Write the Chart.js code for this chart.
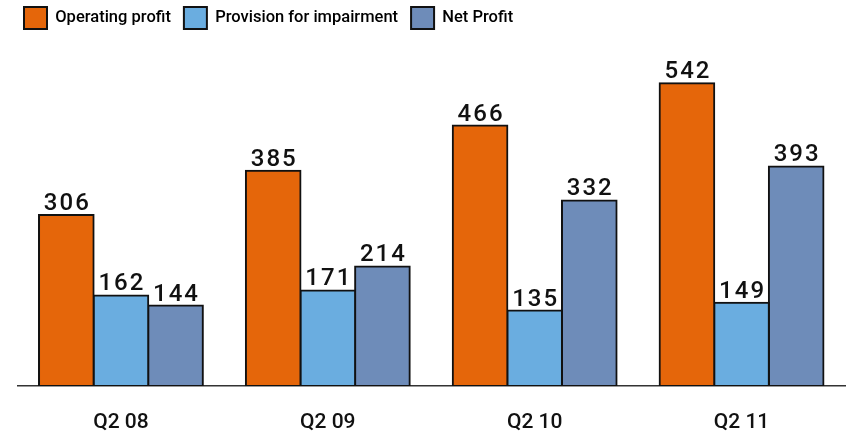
<!DOCTYPE html>
<html>
<head>
<meta charset="utf-8">
<script src="https://cdn.jsdelivr.net/npm/chart.js@4/dist/chart.umd.min.js"></script>
<style>
  html, body { margin: 0; padding: 0; background: #fff; }
  #wrap { width: 848px; height: 435px; position: relative; }
</style>
</head>
<body>
<div id="wrap"><canvas id="chart" width="848" height="435"></canvas></div>
<script>
// Quarterly results (in millions)
const categories = ['Q2 08', 'Q2 09', 'Q2 10', 'Q2 11'];
const operatingProfit = [306, 385, 466, 542];
const provisionForImpairment = [162, 171, 135, 149];
const netProfit = [144, 214, 332, 393];

const seriesNames = ['Operating profit', 'Provision for impairment', 'Net Profit'];
const seriesColors = ['#E5660A', '#6AADE0', '#6E8CB9'];

// Value labels drawn just above each bar
const valueLabels = {
  id: 'valueLabels',
  afterDatasetsDraw(chart) {
    const ctx = chart.ctx;
    ctx.save();
    ctx.font = '500 24px Roboto, sans-serif';
    ctx.fillStyle = '#111';
    ctx.textAlign = 'center';
    ctx.textBaseline = 'bottom';
    let shift = 0;
    if ('letterSpacing' in ctx) { ctx.letterSpacing = '2px'; shift = 1; }
    chart.data.datasets.forEach((ds, i) => {
      chart.getDatasetMeta(i).data.forEach((bar, j) => {
        ctx.fillText(String(ds.data[j]), bar.x + shift, bar.y + 1);
      });
    });
    ctx.restore();
  }
};

new Chart(document.getElementById('chart'), {
  type: 'bar',
  data: {
    labels: categories,
    datasets: [operatingProfit, provisionForImpairment, netProfit].map((vals, i) => ({
      label: seriesNames[i],
      data: vals,
      backgroundColor: seriesColors[i],
      borderColor: '#111',
      borderWidth: 2,
      borderSkipped: false,
      inflateAmount: 1,
      categoryPercentage: 0.792,
      barPercentage: 1.0
    }))
  },
  options: {
    responsive: false,
    animation: false,
    layout: { padding: { left: 11, right: 3, top: -6, bottom: 0 } },
    plugins: {
      legend: {
        position: 'top',
        align: 'start',
        labels: {
          boxWidth: 23,
          boxHeight: 22,
          padding: 13,
          color: '#111',
          font: { family: 'Roboto, sans-serif', size: 16.5, weight: '500' },
          generateLabels(chart) {
            return chart.data.datasets.map((ds, i) => ({
              text: ds.label,
              fillStyle: ds.backgroundColor,
              strokeStyle: '#111',
              lineWidth: 2,
              datasetIndex: i
            }));
          }
        }
      },
      tooltip: { enabled: false }
    },
    scales: {
      x: {
        grid: { display: false, drawTicks: false },
        border: { display: true, color: '#333', width: 1.5 },
        ticks: {
          color: '#111',
          padding: 24,
          font: { family: 'Roboto, sans-serif', size: 21, weight: '500' }
        },
        afterFit(scale) { scale.height = 49; }
      },
      y: {
        display: true,
        min: 0,
        max: 621,
        grid: { display: false },
        border: { display: false },
        ticks: { display: false },
        afterFit(scale) { scale.width = 6.5; }
      }
    }
  },
  plugins: [valueLabels]
});
</script>
</body>
</html>
